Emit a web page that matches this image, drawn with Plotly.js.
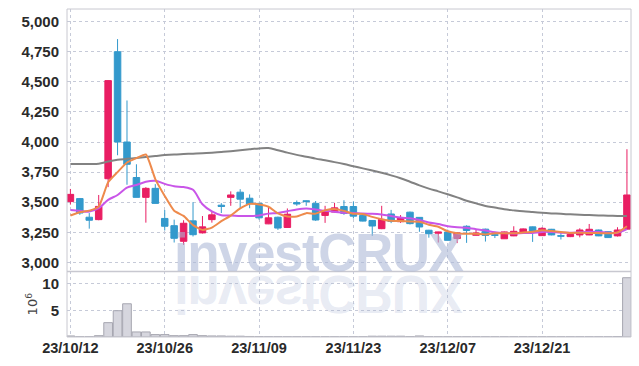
<!DOCTYPE html>
<html>
<head>
<meta charset="utf-8">
<script src="https://cdn.plot.ly/plotly-3.0.1.min.js"></script>
<style>
html,body{margin:0;padding:0;background:#fff;}
#wrap{position:relative;width:639px;height:366px;overflow:hidden;}
#chart{width:639px;height:366px;}
.wm{position:absolute;left:174px;top:233.6px;height:38px;font-family:"Liberation Sans","Arial",sans-serif;font-weight:bold;font-size:53px;line-height:38px;letter-spacing:-1.5px;white-space:nowrap;pointer-events:none;z-index:5;}
#wm1{color:rgba(170,182,214,0.58);}
#wm2{color:rgba(170,182,214,0.27);transform:scaleY(-1);transform-origin:0 39.4px;}
</style>
</head>
<body>
<div id="wrap">
<div id="chart"></div>
<div class="wm" id="wm1">investCRUX</div>
<div class="wm" id="wm2">investCRUX</div>
</div>
<script>
var dates = ["2023-10-12","2023-10-13","2023-10-16","2023-10-17","2023-10-18","2023-10-19","2023-10-20","2023-10-23","2023-10-24","2023-10-25",
"2023-10-26","2023-10-27","2023-10-30","2023-10-31","2023-11-01","2023-11-02","2023-11-03","2023-11-06","2023-11-07","2023-11-08",
"2023-11-09","2023-11-10","2023-11-13","2023-11-14","2023-11-15","2023-11-16","2023-11-17","2023-11-20","2023-11-21","2023-11-22",
"2023-11-23","2023-11-24","2023-11-27","2023-11-28","2023-11-29","2023-11-30","2023-12-01","2023-12-04","2023-12-05","2023-12-06",
"2023-12-07","2023-12-08","2023-12-11","2023-12-12","2023-12-13","2023-12-14","2023-12-15","2023-12-18","2023-12-19","2023-12-20",
"2023-12-21","2023-12-22","2023-12-26","2023-12-27","2023-12-28","2024-01-02","2024-01-03","2024-01-04","2024-01-05","2024-01-08"];

var openP = [3505,3530,3375,3355,3695,4750,4000,3705,3540,3615,
3365,3305,3175,3345,3245,3355,3475,3540,3583,3533,
3490,3320,3375,3290,3497,3512,3490,3390,3418,3464,
3464,3390,3348,3280,3402,3338,3417,3374,3267,3242,
3252,3198,3300,3225,3276,3230,3196,3220,3250,3295,
3222,3275,3222,3214,3228,3228,3269,3255,3220,3276];
var highP = [3610,3535,3410,3560,4515,4855,4345,3815,3625,3650,
3435,3355,3350,3500,3385,3420,3492,3590,3608,3565,
3495,3465,3380,3448,3514,3515,3510,3470,3495,3516,
3505,3395,3350,3470,3436,3393,3422,3376,3270,3254,
3272,3252,3308,3270,3280,3254,3256,3300,3282,3298,
3292,3278,3250,3240,3283,3319,3272,3258,3292,3940];
var lowP = [3480,3395,3280,3350,3625,3890,3645,3540,3330,3490,
3265,3165,3145,3215,3240,3330,3410,3470,3450,3450,
3355,3318,3270,3288,3470,3470,3345,3328,3416,3395,
3365,3340,3220,3276,3326,3328,3315,3254,3205,3165,
3182,3160,3162,3224,3173,3202,3195,3218,3248,3170,
3220,3225,3190,3210,3208,3226,3218,3204,3215,3272];
var closeP = [3565,3410,3350,3465,4510,4000,3815,3540,3615,3490,
3300,3200,3325,3230,3295,3395,3465,3560,3525,3487,
3370,3370,3285,3400,3485,3505,3352,3425,3453,3407,
3384,3343,3302,3357,3340,3372,3322,3294,3238,3252,
3183,3245,3265,3245,3224,3225,3253,3258,3278,3260,
3283,3228,3218,3233,3269,3275,3220,3206,3269,3560];

var ma5 = [3389,3417,3430,3463,3665,3750,3830,3866,3896,3692,
3552,3429,3386,3309,3270,3289,3342,3389,3448,3486,
3481,3462,3407,3382,3382,3409,3405,3433,3444,3428,
3404,3402,3378,3359,3345,3343,3339,3337,3313,3296,
3258,3242,3237,3238,3232,3241,3242,3241,3248,3255,
3266,3261,3253,3244,3246,3245,3243,3241,3248,3300];
var ma10 = [3436,3428,3422,3450,3519,3560,3621,3643,3670,3678,
3652,3632,3626,3603,3483,3423,3392,3390,3385,3385,
3390,3405,3410,3425,3440,3448,3440,3428,3420,3413,
3410,3405,3404,3398,3385,3372,3366,3352,3332,3318,
3300,3291,3287,3276,3264,3250,3243,3240,3243,3245,
3253,3252,3247,3246,3250,3254,3252,3247,3246,3276];
var ma60 = [3818,3818,3818,3820,3838,3852,3860,3868,3876,3884,
3892,3897,3900,3903,3906,3911,3917,3924,3932,3940,
3947,3950,3932,3912,3893,3878,3862,3848,3833,3817,
3799,3781,3763,3744,3723,3699,3670,3640,3613,3590,
3566,3540,3512,3490,3468,3455,3441,3432,3424,3418,
3412,3407,3403,3399,3396,3393,3390,3388,3386,3385];

var volume = [0.2,0.05,0.05,0.25,2.7,4.95,6.25,0.95,0.95,0.45,
0.45,0.25,0.25,0.45,0.25,0.2,0.2,0.15,0.15,0.1,
0.08,0.06,0.06,0.05,0.05,0.05,0.05,0.05,0.05,0.05,
0.05,0.05,0.15,0.15,0.15,0.15,0.08,0.2,0.06,0.05,
0.05,0.05,0.05,0.04,0.04,0.04,0.04,0.04,0.04,0.04,
0.04,0.04,0.04,0.04,0.04,0.04,0.04,0.04,0.08,11.15];

var xTickVals = ["2023-10-12","2023-10-26","2023-11-09","2023-11-23","2023-12-07","2023-12-21"];
var xTickText = ["23/10/12","23/10/26","23/11/09","23/11/23","23/12/07","23/12/21"];
var priceTicks = [3000,3250,3500,3750,4000,4250,4500,4750,5000];
var volTicks = [5,10];

var UP = "#E91E63", DOWN = "#3399CC";
var tickFont = {family:"Liberation Sans Narrow, Arial Narrow, sans-serif", size:15, color:"#2a2a2a", weight:"bold"};
var gridC = "#c6cad8";

var traces = [
  {type:"candlestick", x:dates, open:openP, high:highP, low:lowP, close:closeP,
   xaxis:"x", yaxis:"y", hoverinfo:"skip",
   increasing:{line:{color:UP, width:1}, fillcolor:UP},
   decreasing:{line:{color:DOWN, width:1}, fillcolor:DOWN},
   whiskerwidth:0, showlegend:false},
  {type:"scatter", mode:"lines", x:dates, y:ma60, xaxis:"x", yaxis:"y",
   line:{color:"#828282", width:2, shape:"spline", smoothing:1}, hoverinfo:"skip", showlegend:false},
  {type:"scatter", mode:"lines", x:dates, y:ma10, xaxis:"x", yaxis:"y",
   line:{color:"#C955E8", width:2, shape:"spline", smoothing:0.8}, hoverinfo:"skip", showlegend:false},
  {type:"scatter", mode:"lines", x:dates, y:ma5, xaxis:"x", yaxis:"y",
   line:{color:"#EE8A4C", width:2, shape:"spline", smoothing:0.5}, hoverinfo:"skip", showlegend:false},
  {type:"bar", x:dates, y:volume, xaxis:"x", yaxis:"y2",
   marker:{color:"#D6D6DE", line:{color:"#A6A6B0", width:1}}, hoverinfo:"skip", showlegend:false}
];

var layout = {
  width:639, height:366,
  margin:{l:67, r:8, t:9, b:29, pad:0},
  paper_bgcolor:"#fff", plot_bgcolor:"#fff",
  showlegend:false, bargap:0.08, boxgap:0.31, boxgroupgap:0,
  xaxis:{type:"category", anchor:"y2", range:[-0.36,59.43], rangeslider:{visible:false},
    tickmode:"array", tickvals:xTickVals, ticktext:xTickText,
    tickfont:{family:"Liberation Sans Narrow, Arial Narrow, sans-serif", size:14.5, color:"#2a2a2a", weight:"bold"},
    showgrid:true, gridcolor:gridC, griddash:"dot", gridwidth:1,
    showline:false, zeroline:false, ticks:"", fixedrange:true},
  yaxis:{domain:[0.2,1], anchor:"x", range:[2925,5105], tickmode:"array", tickvals:priceTicks,
    tickformat:",d", tickfont:tickFont, showgrid:true, gridcolor:gridC, griddash:"dot", gridwidth:1,
    zeroline:false, showline:false, ticks:"outside", ticklen:4, tickcolor:"rgba(0,0,0,0)"},
  yaxis2:{domain:[0,0.2], anchor:"x", range:[0,12.34], tickmode:"array", tickvals:volTicks,
    tickfont:tickFont, showgrid:true, gridcolor:gridC, griddash:"dot", gridwidth:1,
    zeroline:false, showline:false, ticks:"outside", ticklen:4, tickcolor:"rgba(0,0,0,0)",
    title:{text:"10<sup>6</sup>", font:{family:"DejaVu Sans, sans-serif", size:13, color:"#444"}, standoff:1}},
  shapes:[
    {type:"rect", xref:"paper", yref:"paper", x0:0, x1:1, y0:0, y1:1, line:{color:"#c8c8d0", width:1}, layer:"above"},
    {type:"line", xref:"paper", yref:"paper", x0:0, x1:1, y0:0.2, y1:0.2, line:{color:"#c8c8d0", width:1.5}, layer:"above"}
  ]
};

Plotly.newPlot("chart", traces, layout, {displayModeBar:false, staticPlot:true});
</script>
</body>
</html>
